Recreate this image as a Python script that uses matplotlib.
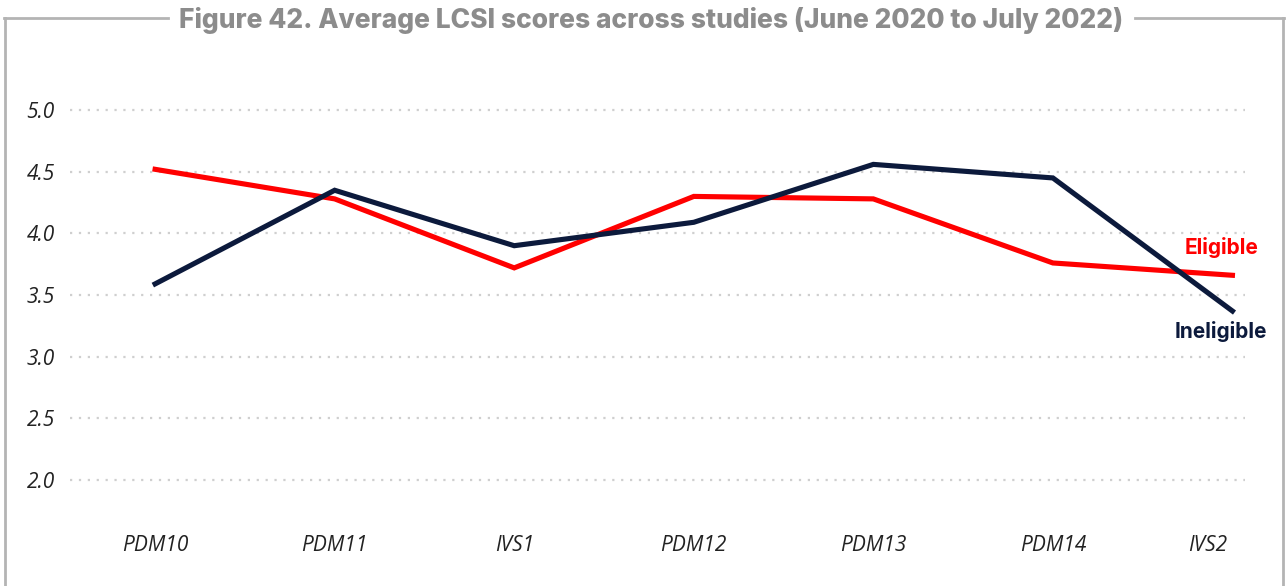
import matplotlib
matplotlib.use("Agg")
import matplotlib.pyplot as plt
import matplotlib.transforms as mtransforms
from matplotlib.lines import Line2D

# average LCSI score per study round
studies=["PDM10","PDM11","IVS1","PDM12","PDM13","PDM14","IVS2"]
eligible=[4.52,4.28,3.72,4.30,4.28,3.76,3.66]
ineligible=[3.59,4.35,3.90,4.09,4.56,4.45,3.37]
yticks=[2.0,2.5,3.0,3.5,4.0,4.5,5.0]

RED="#ff0000"
NAVY="#0c1a3c"
GREY="#8c8c8c"

W,H=1288,586
fig=plt.figure(figsize=(W/100,H/100),dpi=100)
ax=fig.add_axes([70/W,1-486/H,(1245-70)/W,(486-104)/H])

xs=list(range(len(studies)))
ax.plot(xs,eligible,color=RED,lw=3.7,solid_joinstyle="miter",zorder=3)
ax.plot(xs,ineligible,color=NAVY,lw=3.7,solid_joinstyle="miter",zorder=4)

ax.set_xlim(-0.474,6.07)
ax.set_ylim(1.95,5.05)
ax.set_yticks(yticks)
ax.set_yticklabels(["%.1f"%v for v in yticks])
ax.set_xticks(xs)
ax.set_xticklabels(studies)
for s in ax.spines.values():
    s.set_visible(False)
ax.tick_params(axis="both",length=0,colors="#222222")
ax.tick_params(axis="y",pad=11)
ax.tick_params(axis="x",pad=35)
for lab in ax.get_yticklabels()+ax.get_xticklabels():
    lab.set_fontfamily("Open Sans")
    lab.set_fontstyle("italic")
    lab.set_fontsize(15)
# last category label sits a little left of its point
last=ax.get_xticklabels()[-1]
last.set_transform(last.get_transform()+mtransforms.ScaledTranslation(-25/100,0,fig.dpi_scale_trans))
ax.yaxis.grid(True,color="#cfcfcf",linestyle=(0,(1,3)),lw=1.6)
ax.set_axisbelow(True)

# series names at the right end of each line
ax.annotate("Eligible",(xs[-1],eligible[-1]),xytext=(-8,20),textcoords="offset points",
            ha="center",va="center",color=RED,fontsize=15,fontweight="bold",family="Inter")
ax.annotate("Ineligible",(xs[-1],ineligible[-1]),xytext=(-8,-15),textcoords="offset points",
            ha="center",va="center",color=NAVY,fontsize=15,fontweight="bold",family="Inter")

# frame round the figure, broken by the title
bc="#b4b4b4"
fig.add_artist(Line2D([5/W,5/W],[0,1-18/H],color=bc,lw=2))
fig.add_artist(Line2D([1283/W,1283/W],[0,1-18/H],color=bc,lw=2))
fig.add_artist(Line2D([4/W,168/W],[1-18/H,1-18/H],color=bc,lw=2))
fig.add_artist(Line2D([1135/W,1284/W],[1-18/H,1-18/H],color=bc,lw=2))
fig.text(651/W,1-20/H,"Figure 42. Average LCSI scores across studies (June 2020 to July 2022)",
         ha="center",va="center",color=GREY,fontsize=19,fontweight="heavy",family="Inter")

fig.savefig("out.png",dpi=100)
